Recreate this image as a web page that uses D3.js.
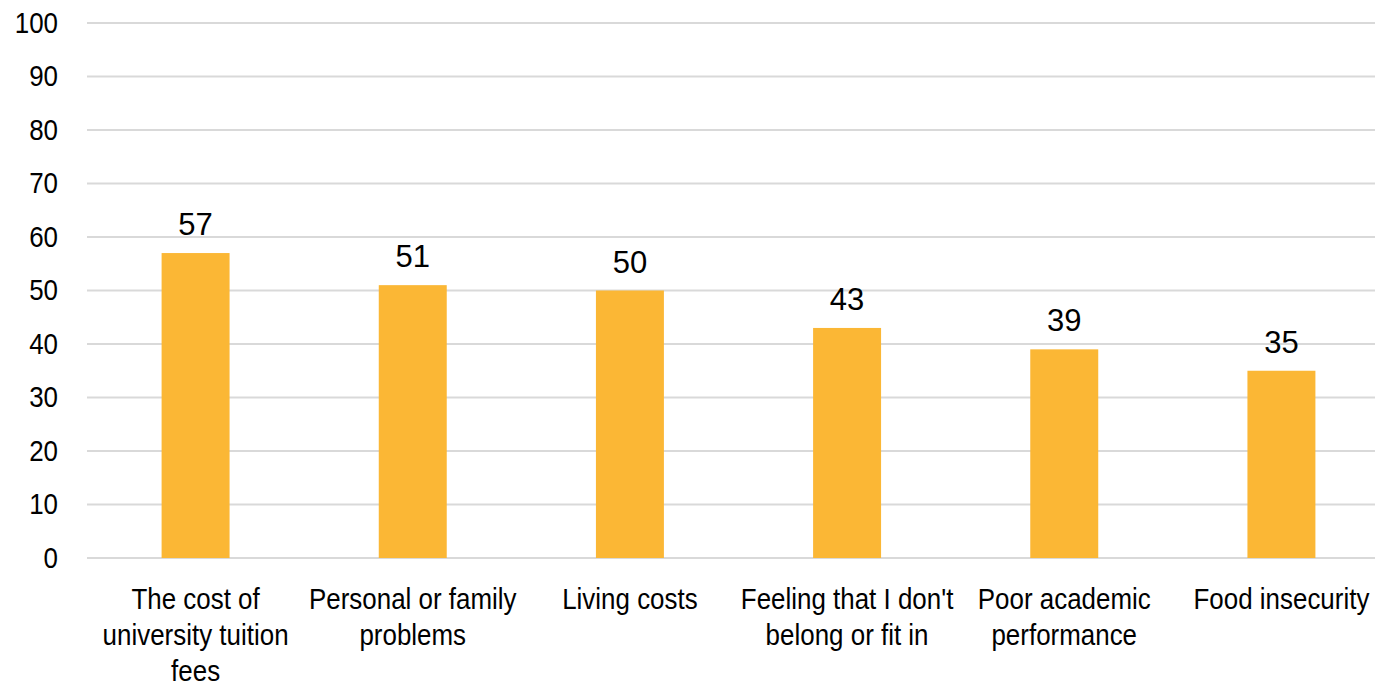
<!DOCTYPE html>
<html>
<head>
<meta charset="utf-8">
<script src="https://cdn.jsdelivr.net/npm/d3@7"></script>
<style>
  html, body { margin: 0; padding: 0; background: #fff; overflow: hidden; }
  svg { display: block; }
</style>
</head>
<body>
<svg id="chart" width="1375" height="686"></svg>
<script>
// Reasons considered for leaving university (%)
const categories = [
  ["The cost of", "university tuition", "fees"],
  ["Personal or family", "problems"],
  ["Living costs"],
  ["Feeling that I don't", "belong or fit in"],
  ["Poor academic", "performance"],
  ["Food insecurity"]
];
const values = [57, 51, 50, 43, 39, 35];
const yTicks = [0, 10, 20, 30, 40, 50, 60, 70, 80, 90, 100];

const svg = d3.select("#chart");
const W = 1375, H = 686;
const plotLeft = 87, plotRight = 1390, plotTop = 23, plotBottom = 558;

const keys = categories.map(c => c.join(" "));
const x = d3.scaleBand().domain(keys).range([plotLeft, plotRight])
  .paddingInner(0.687).paddingOuter(0.3435);
const y = d3.scaleLinear().domain([0, 100]).range([plotBottom, plotTop]);

// narrow face: regular sans squeezed horizontally
const sans = "'Liberation Sans', Arial, sans-serif";
const squeeze = 0.865;

// gridlines
svg.append("g")
  .selectAll("line")
  .data(yTicks)
  .join("line")
  .attr("x1", plotLeft).attr("x2", plotRight)
  .attr("y1", d => y(d)).attr("y2", d => y(d))
  .attr("stroke", "#d9d9d9").attr("stroke-width", 2);

// y axis labels
const yAxis = svg.append("g")
  .call(d3.axisLeft(y).tickValues(yTicks).tickSize(0).tickPadding(0));
yAxis.select(".domain").remove();
yAxis.selectAll(".tick")
  .attr("transform", d => `translate(58,${y(d)}) scale(${squeeze},1)`);
yAxis.selectAll("text")
  .attr("font-family", sans).attr("font-size", 30).attr("fill", "#000");

// bars
svg.append("g")
  .selectAll("rect")
  .data(values)
  .join("rect")
  .attr("x", (d, i) => x(keys[i]))
  .attr("width", x.bandwidth())
  .attr("y", d => y(d))
  .attr("height", d => y(0) - y(d))
  .attr("fill", "#fbb735");

// value labels
svg.append("g")
  .selectAll("text")
  .data(values)
  .join("text")
  .attr("x", (d, i) => x(keys[i]) + x.bandwidth() / 2)
  .attr("y", d => y(d) - 18)
  .attr("text-anchor", "middle")
  .attr("font-family", sans).attr("font-size", 31).attr("fill", "#000")
  .text(d => d);

// category labels
const cat = svg.append("g")
  .selectAll("text")
  .data(categories)
  .join("text")
  .attr("transform", (d, i) => `translate(${x(keys[i]) + x.bandwidth() / 2},609) scale(${squeeze},1)`)
  .attr("text-anchor", "middle")
  .attr("font-family", sans).attr("font-size", 30).attr("fill", "#000");
cat.selectAll("tspan")
  .data(d => d)
  .join("tspan")
  .attr("x", 0)
  .attr("dy", (d, i) => i === 0 ? 0 : 36)
  .text(d => d);
</script>
</body>
</html>
